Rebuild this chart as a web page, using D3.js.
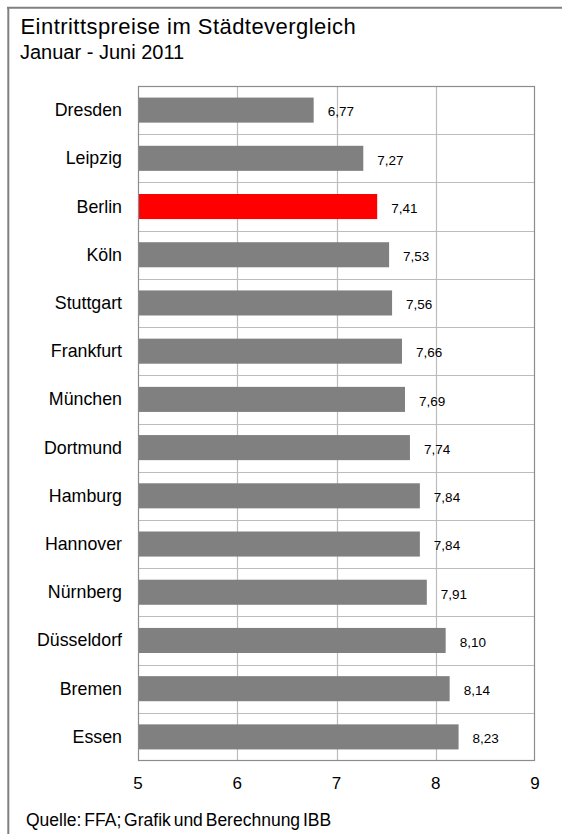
<!DOCTYPE html>
<html>
<head>
<meta charset="utf-8">
<script src="https://cdn.jsdelivr.net/npm/d3@7"></script>
<style>
html,body{margin:0;padding:0;background:#fff;}
svg{display:block;font-family:"Liberation Sans",Arial,sans-serif;}
</style>
</head>
<body>
<svg id="c" width="562" height="834"></svg>
<script>
const categories = ["Dresden","Leipzig","Berlin","Köln","Stuttgart","Frankfurt","München","Dortmund","Hamburg","Hannover","Nürnberg","Düsseldorf","Bremen","Essen"];
const values = [6.77,7.27,7.41,7.53,7.56,7.66,7.69,7.74,7.84,7.84,7.91,8.10,8.14,8.23];
const highlight = "Berlin";
const xTicks = [5,6,7,8,9];
const title = "Eintrittspreise im Städtevergleich";
const subtitle = "Januar - Juni 2011";
const source = "Quelle: FFA; Grafik und Berechnung IBB";

(function(){
const svg = d3.select("#c");
const pL = 138, pR = 535, pT = 86, pB = 761;

const x = d3.scaleLinear().domain([5,9]).range([pL,pR]);
const y = d3.scaleBand().domain(categories).range([pT,pB]).paddingInner(0.48).paddingOuter(0.24);

// outer frame (left and top)
svg.append("line").attr("x1",8.3).attr("x2",8.3).attr("y1",7).attr("y2",834).attr("stroke","#808080").attr("stroke-width",2);
svg.append("line").attr("x1",7).attr("x2",562).attr("y1",7.8).attr("y2",7.8).attr("stroke","#808080").attr("stroke-width",2);

// title
svg.append("text").attr("x",20.5).attr("y",33.5).attr("font-size",22).attr("fill","#000").attr("letter-spacing",0.45).text(title);
svg.append("text").attr("x",20).attr("y",59.3).attr("font-size",20).attr("fill","#000").text(subtitle);

// grid
const g = svg.append("g");
const step = y.step();
const bandEdges = d3.range(1, categories.length).map(i => y(categories[i]) - y.paddingInner()*step/2);
g.selectAll("line.h").data(bandEdges).enter().append("line")
  .attr("x1",pL).attr("x2",pR).attr("y1",d=>Math.round(d)+0.5).attr("y2",d=>Math.round(d)+0.5)
  .attr("stroke","#bcbcbc").attr("stroke-width",1.2);
g.selectAll("line.v").data(xTicks.slice(1,-1)).enter().append("line")
  .attr("x1",d=>Math.round(x(d))+0.5).attr("x2",d=>Math.round(x(d))+0.5).attr("y1",pT).attr("y2",pB)
  .attr("stroke","#bcbcbc").attr("stroke-width",1.2);

// bars
svg.selectAll("rect.bar").data(categories).enter().append("rect")
  .attr("x",x(5)).attr("y",d=>y(d)).attr("height",y.bandwidth())
  .attr("width",(d,i)=>x(values[i])-x(5))
  .attr("fill",d=>d===highlight?"#ff0000":"#808080");

// plot border
svg.append("rect").attr("x",pL+0.5).attr("y",pT+0.5).attr("width",pR-pL-1).attr("height",pB-pT-1)
  .attr("fill","none").attr("stroke","#8c8c8c").attr("stroke-width",1.2);

// value labels
const fmt = v => d3.format(".2f")(v).replace(".",",");
svg.selectAll("text.val").data(categories).enter().append("text")
  .attr("x",(d,i)=>x(values[i])+14).attr("y",d=>y(d)+y.bandwidth()/2+6.3)
  .attr("font-size",13.5).attr("fill","#000").text((d,i)=>fmt(values[i]));

// category axis
svg.selectAll("text.cat").data(categories).enter().append("text")
  .attr("x",122).attr("y",d=>y(d)+y.bandwidth()/2+6)
  .attr("text-anchor","end").attr("font-size",17.8).attr("fill","#000").text(d=>d);

// x axis labels
svg.selectAll("text.tick").data(xTicks).enter().append("text")
  .attr("x",d=>x(d)).attr("y",789).attr("text-anchor","middle").attr("font-size",17).attr("fill","#000").text(d=>d);

// source
svg.append("text").attr("x",26).attr("y",826).attr("font-size",17.5).attr("word-spacing",-2).attr("fill","#000").text(source);
})();
</script>
</body>
</html>
